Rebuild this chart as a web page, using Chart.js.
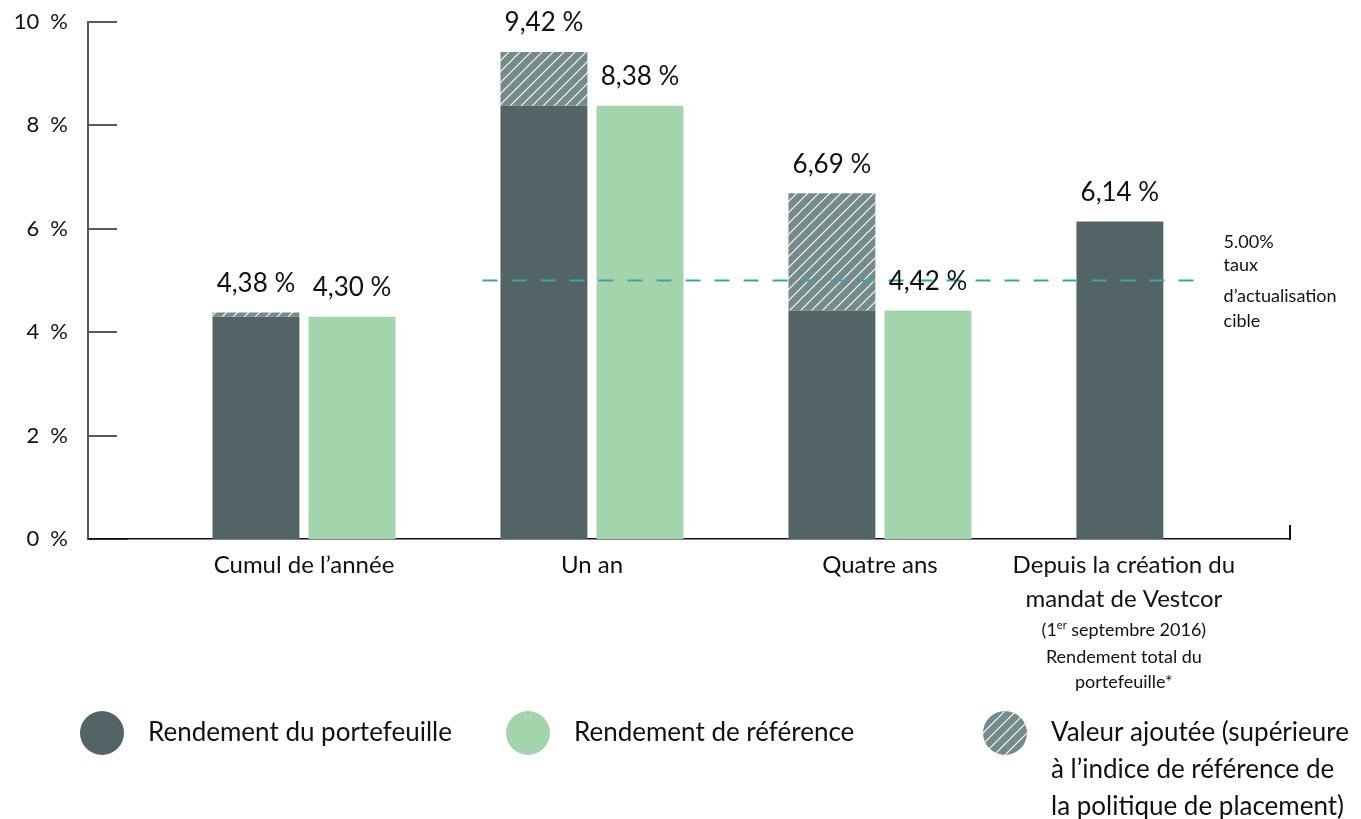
<!DOCTYPE html>
<html>
<head>
<meta charset="utf-8">
<script src="https://cdn.jsdelivr.net/npm/chart.js@4"></script>
<style>
  html, body { margin: 0; padding: 0; background: #fff; }
</style>
</head>
<body>
<canvas id="c" width="1361" height="819"></canvas>
<script>
// data
const categories = ['Cumul de l’année', 'Un an', 'Quatre ans', 'Depuis la création du'];
const portfolioTotal = [4.38, 9.42, 6.69, 6.14];
const portfolioBase = [4.30, 8.38, 4.42, 6.14];
const valueAdded = [0.08, 1.04, 2.27, 0];
const benchmark = [4.30, 8.38, 4.42, null];
const targetRate = 5.00;
const yTicks = [0, 2, 4, 6, 8, 10];

const DARK = '#536466';
const LIGHT = '#a3d4ab';
const HATCH = '#748b8a';
const TEAL = '#3aa8a2';
const FONT = 'Lato, "Open Sans", sans-serif';

function hatch(color) {
    const s = 11;
    const c = document.createElement('canvas');
    c.width = s; c.height = s;
    const g = c.getContext('2d');
    g.fillStyle = color;
    g.fillRect(0, 0, s, s);
    g.strokeStyle = '#fff';
    g.lineWidth = 1.1;
    g.beginPath();
    g.moveTo(-1, s + 1); g.lineTo(s + 1, -1);
    g.moveTo(-2, 2); g.lineTo(2, -2);
    g.moveTo(s - 2, s + 2); g.lineTo(s + 2, s - 2);
    g.stroke();
    return g.createPattern(c, 'repeat');
}
const hatchFill = hatch(HATCH);

const pts = arr => arr.map((v, i) => ({ x: i, y: v }));
const fmt = v => v.toFixed(2).replace('.', ',') + ' %';

const extras = {
    id: 'extras',
    afterDatasetsDraw(chart) {
        const ctx = chart.ctx;
        const xs = chart.scales.x, ys = chart.scales.y;
        const area = chart.chartArea;
        ctx.save();

        // short tick marks inside the plot
        ctx.strokeStyle = '#595959';
        ctx.lineWidth = 2;
        yTicks.forEach(t => {
            if (t === 0) return;
            const y = Math.round(ys.getPixelForValue(t));
            ctx.beginPath();
            ctx.moveTo(area.left, y);
            ctx.lineTo(area.left + 29, y);
            ctx.stroke();
        });
        // x axis ends
        ctx.strokeStyle = '#111';
        ctx.beginPath();
        ctx.moveTo(area.right, area.bottom - 14);
        ctx.lineTo(area.right, area.bottom + 1);
        ctx.stroke();
        ctx.lineWidth = 1.5;
        ctx.beginPath();
        ctx.moveTo(area.left, area.bottom);
        ctx.lineTo(area.left + 40, area.bottom);
        ctx.stroke();

        // target rate line
        const ty = ys.getPixelForValue(targetRate);
        ctx.strokeStyle = TEAL;
        ctx.lineWidth = 2.2;
        ctx.setLineDash([15, 14]);
        ctx.beginPath();
        ctx.moveTo(xs.getPixelForValue(0.62), ty);
        ctx.lineTo(xs.getPixelForValue(3.11), ty);
        ctx.stroke();
        ctx.setLineDash([]);

        ctx.fillStyle = '#111';
        ctx.textAlign = 'left';
        ctx.textBaseline = 'middle';
        ctx.font = '18px ' + FONT;
        const ax = xs.getPixelForValue(3.11) + 24;
        ctx.fillText(targetRate.toFixed(2) + '%', ax, ty - 38);
        ctx.fillText('taux', ax, ty - 15);
        ctx.fillText('d’actualisation', ax, ty + 16);
        ctx.fillText('cible', ax, ty + 41);

        // value labels
        const m0 = chart.getDatasetMeta(0), m2 = chart.getDatasetMeta(2);
        ctx.textAlign = 'center';
        ctx.font = '26px ' + FONT;
        portfolioTotal.forEach((v, i) => {
            ctx.fillText(fmt(v), m0.data[i].x, ys.getPixelForValue(v) - 29);
        });
        benchmark.forEach((v, i) => {
            if (v === null) return;
            ctx.fillText(fmt(v), m2.data[i].x, ys.getPixelForValue(v) - 29);
        });

        // category labels
        ctx.font = '24px ' + FONT;
        const lx = m0.data[3].x + 4;
        categories.forEach((c, i) => {
            const x = i < 3 ? xs.getPixelForValue(i) : lx;
            ctx.fillText(c, x, area.bottom + 26);
        });
        ctx.fillText('mandat de Vestcor', lx, area.bottom + 60);
        const a = '(1', b = ' septembre 2016)';
        ctx.font = '18px ' + FONT;
        const wa = ctx.measureText(a).width, wb = ctx.measureText(b).width;
        ctx.font = '11px ' + FONT;
        const ws = ctx.measureText('er').width;
        const sx = lx - (wa + ws + wb) / 2;
        ctx.textAlign = 'left';
        ctx.font = '18px ' + FONT;
        ctx.fillText(a, sx, area.bottom + 91);
        ctx.font = '11px ' + FONT;
        ctx.fillText('er', sx + wa, area.bottom + 86);
        ctx.font = '18px ' + FONT;
        ctx.fillText(b, sx + wa + ws, area.bottom + 91);
        ctx.textAlign = 'center';
        ctx.fillText('Rendement total du', lx, area.bottom + 118);
        ctx.fillText('portefeuille*', lx, area.bottom + 143);

        // legend
        const ly = 733;
        const items = [
            { x: 102, fill: DARK, text: ['Rendement du portefeuille'] },
            { x: 528, fill: LIGHT, text: ['Rendement de référence'] },
            { x: 1005, fill: hatchFill, text: ['Valeur ajoutée (supérieure', 'à l’indice de référence de', 'la politique de placement)'] }
        ];
        ctx.textAlign = 'left';
        ctx.font = '26px ' + FONT;
        items.forEach(it => {
            ctx.fillStyle = it.fill;
            ctx.beginPath();
            ctx.arc(it.x, ly, 22, 0, Math.PI * 2);
            ctx.fill();
            ctx.fillStyle = '#111';
            it.text.forEach((t, k) => ctx.fillText(t, it.x + 46, ly + k * 37));
        });
        ctx.restore();
    }
};

new Chart(document.getElementById('c'), {
    type: 'bar',
    data: {
        datasets: [{
            label: 'Rendement du portefeuille',
            data: pts(portfolioBase),
            backgroundColor: DARK,
            stack: 'p'
        }, {
            label: 'Valeur ajoutée',
            data: pts(valueAdded),
            backgroundColor: hatchFill,
            stack: 'p'
        }, {
            label: 'Rendement de référence',
            data: pts(benchmark),
            backgroundColor: LIGHT,
            stack: 'b'
        }]
    },
    options: {
        responsive: false,
        animation: false,
        categoryPercentage: 0.667,
        barPercentage: 0.905,
        layout: { padding: { top: 22, right: 71, bottom: 280, left: 0 } },
        scales: {
            x: {
                type: 'linear',
                offset: false,
                min: -0.75,
                max: 3.424,
                afterBuildTicks: s => { s.ticks = categories.map((c, i) => ({ value: i })); },
                grid: { display: false, drawTicks: false },
                ticks: { display: false },
                border: { display: true, color: '#111', width: 1.5 },
                afterFit: s => { s.height = 0; }
            },
            y: {
                stacked: true,
                min: 0,
                max: 10,
                afterBuildTicks: s => { s.ticks = yTicks.map(v => ({ value: v })); },
                grid: { display: false, drawTicks: false },
                border: { display: true, color: '#595959', width: 2 },
                ticks: {
                    padding: 20,
                    color: '#111',
                    font: { family: FONT, size: 22 },
                    callback: v => v + '\u2002%'
                },
                afterFit: s => { s.width = 88; s.paddingTop = 0; s.paddingBottom = 0; }
            }
        },
        plugins: {
            legend: { display: false },
            tooltip: { enabled: false }
        }
    },
    plugins: [extras]
});
</script>
</body>
</html>
